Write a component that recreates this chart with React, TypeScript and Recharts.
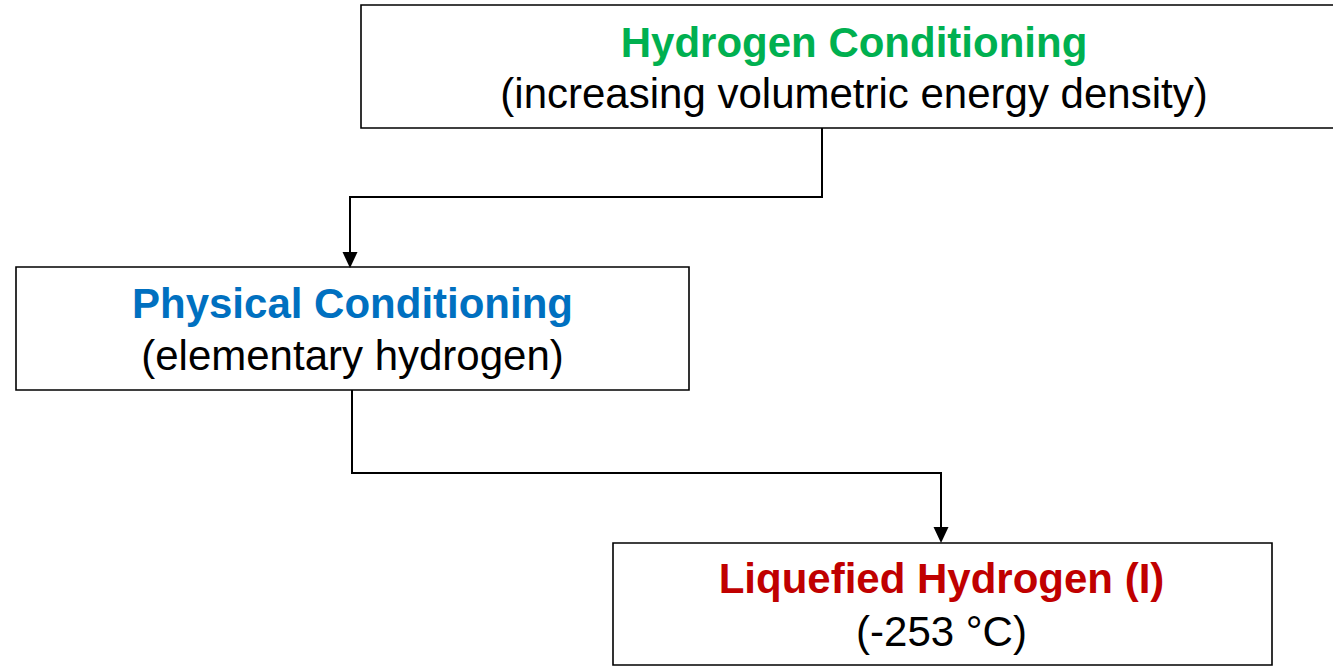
import React from 'react';
import { ScatterChart, Scatter, XAxis, YAxis, ReferenceArea } from 'recharts';

// Flowchart nodes (data units = page pixels via a 0..1333 / 0..666 scale)
const boxLeft = [361, 16, 613];
const boxRight = [1347, 689, 1272];
const boxTop = [5, 267, 543];
const boxBottom = [128, 390, 665];
const titles = ['Hydrogen Conditioning', 'Physical Conditioning', 'Liquefied Hydrogen (I)'];
const subtitles = ['(increasing volumetric energy density)', '(elementary hydrogen)', '(-253 °C)'];
const titleColors = ['#00B050', '#0070C0', '#C00000'];
const textX = [854, 352.5, 941.5];
const titleY = [56.5, 318, 593];
const subY = [108, 370, 646];

// Connectors (elbow paths) and arrow tips
const connAX = [822, 822, 350, 350];
const connAY = [128, 197, 197, 254];
const connBX = [352, 352, 941, 941];
const connBY = [390, 473, 473, 529];
const arrowX = [350, 941];
const arrowY = [268, 543];

const W = 1333;
const H = 666;
const FONT = '"Liberation Sans", Arial, Helvetica, sans-serif';

const toPts = (xs: number[], ys: number[]) => xs.map((x, i) => ({ x, y: ys[i] }));
const connA = toPts(connAX, connAY);
const connB = toPts(connBX, connBY);
const arrows = toPts(arrowX, arrowY);
const titlePts = textX.map((x, i) => ({ x, y: titleY[i], text: titles[i], color: titleColors[i] }));
const subPts = textX.map((x, i) => ({ x, y: subY[i], text: subtitles[i] }));

const Empty = () => <g />;

const ArrowHead = (props: any) => {
  const { cx, cy } = props;
  if (cx == null || cy == null) return <g />;
  return <path d={`M${cx},${cy} L${cx - 7.5},${cy - 16} L${cx + 7.5},${cy - 16} Z`} fill="#000" />;
};

const TitleText = (props: any) => {
  const { cx, cy, payload } = props;
  return (
    <text x={cx} y={cy} textAnchor="middle" fontFamily={FONT} fontSize={42} fontWeight="bold" fill={payload.color}>
      {payload.text}
    </text>
  );
};

const SubText = (props: any) => {
  const { cx, cy, payload } = props;
  return (
    <text x={cx} y={cy} textAnchor="middle" fontFamily={FONT} fontSize={42} fill="#000">
      {payload.text}
    </text>
  );
};

export default function App() {
  return (
    <div style={{ position: 'absolute', left: 0, top: 0, width: W, height: H, background: '#fff' }}>
      <ScatterChart width={W} height={H} margin={{ top: 0, right: 0, bottom: 0, left: 0 }}>
        <XAxis type="number" dataKey="x" domain={[0, W]} hide allowDataOverflow />
        <YAxis type="number" dataKey="y" domain={[0, H]} reversed hide allowDataOverflow />
        {boxLeft.map((l, i) => (
          <ReferenceArea
            key={i}
            x1={l}
            x2={boxRight[i]}
            y1={boxTop[i]}
            y2={boxBottom[i]}
            fill="#fff"
            fillOpacity={1}
            stroke="#000"
            strokeWidth={1.6}
            ifOverflow="visible"
          />
        ))}
        <Scatter data={connA} line={{ stroke: '#000', strokeWidth: 2 }} lineJointType="linear" shape={Empty} isAnimationActive={false} />
        <Scatter data={connB} line={{ stroke: '#000', strokeWidth: 2 }} lineJointType="linear" shape={Empty} isAnimationActive={false} />
        <Scatter data={arrows} shape={ArrowHead} isAnimationActive={false} />
        <Scatter data={titlePts} shape={TitleText} isAnimationActive={false} />
        <Scatter data={subPts} shape={SubText} isAnimationActive={false} />
      </ScatterChart>
    </div>
  );
}
